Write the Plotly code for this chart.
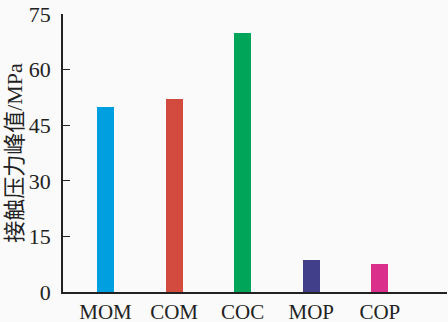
import plotly.graph_objects as go

categories = ["MOM", "COM", "COC", "MOP", "COP"]
values = [50, 52, 70, 8.7, 7.6]
colors = ["#009fdf", "#d24b3e", "#00a55a", "#423f8a", "#da2f8a"]
y_ticks = [0, 15, 30, 45, 60, 75]
y_title = "接触压力峰值/MPa"

font_serif = '"Liberation Serif", "Noto Sans CJK SC", serif'

fig = go.Figure(go.Bar(
    x=categories, y=values, marker=dict(color=colors, line=dict(width=0)),
    width=0.25,
))

fig.update_layout(
    width=448, height=322,
    margin=dict(l=63, r=1, t=14, b=30, autoexpand=False),
    paper_bgcolor="#fafafa", plot_bgcolor="#fafafa",
    font=dict(family=font_serif, size=22, color="#222"),
    showlegend=False,
    bargap=0,
)
fig.update_xaxes(
    type="category", range=[-0.62, 4.98], automargin=False,
    showline=True, linecolor="#222", linewidth=1.5,
    ticks="", showgrid=False, tickfont=dict(size=21),
)
fig.update_yaxes(
    range=[0, 75], tickvals=y_ticks, automargin=False,
    showline=True, linecolor="#222", linewidth=1.5,
    ticks="inside", ticklen=7, tickcolor="#222",
    showgrid=False, zeroline=False,
    ticklabelstandoff=6,
    title=dict(text=y_title, font=dict(size=22), standoff=0),
)

fig.write_html(
    "out.html",
    config={"displayModeBar": False},
    post_script="document.body.style.margin='0';document.body.style.padding='0';",
)
